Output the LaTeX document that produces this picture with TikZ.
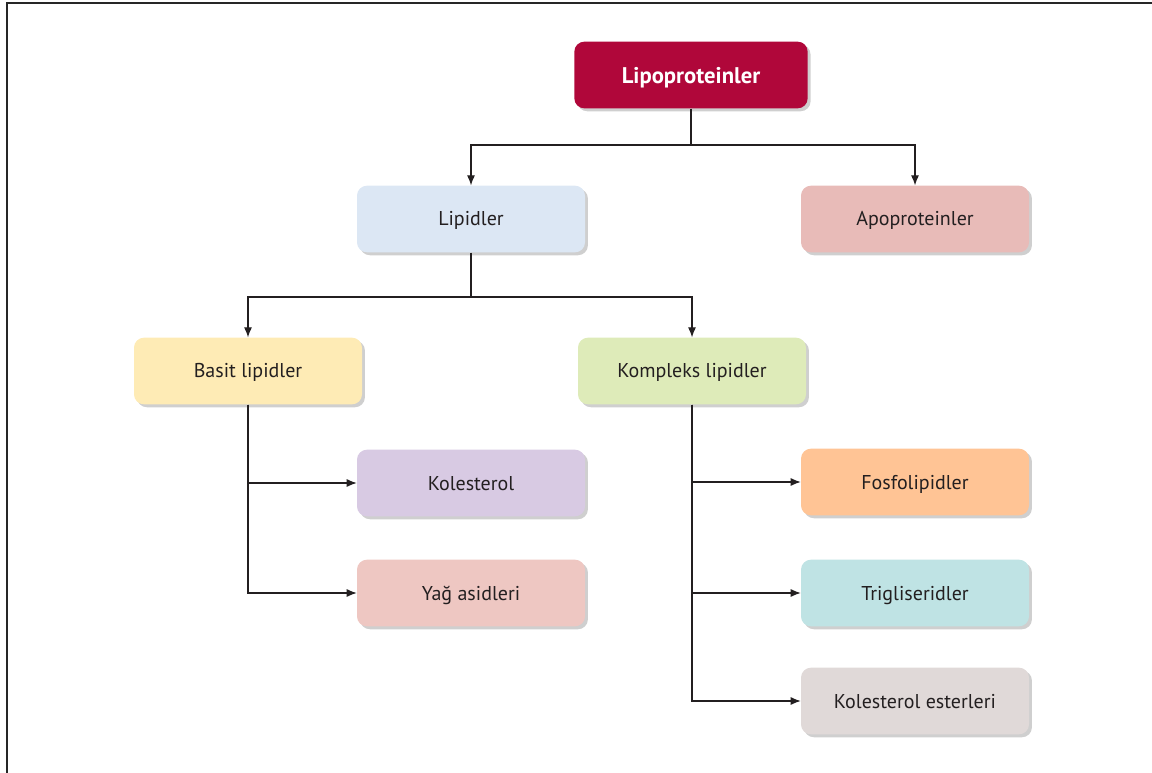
\documentclass[tikz,border=0pt]{standalone}
\usepackage{fontspec}
\setmainfont{PT Sans}
\usetikzlibrary{arrows.meta,shadows}
\definecolor{cLipo}{HTML}{B0073A}
\definecolor{cLipid}{HTML}{DCE7F4}
\definecolor{cApo}{HTML}{E8BBB8}
\definecolor{cBasit}{HTML}{FEEBB5}
\definecolor{cKomp}{HTML}{DEEBB9}
\definecolor{cKol}{HTML}{D8CAE3}
\definecolor{cYag}{HTML}{EEC7C2}
\definecolor{cFos}{HTML}{FFC495}
\definecolor{cTri}{HTML}{BFE3E4}
\definecolor{cKest}{HTML}{E0D9D8}
\definecolor{txt}{HTML}{231F20}
\definecolor{shd}{HTML}{CFCFCF}
\begin{document}
\begin{tikzpicture}[x=0.75pt,y=-0.75pt,
  box/.style={rounded corners=7.5pt, minimum width=171pt, minimum height=50pt,
    inner sep=0pt, text=txt, font=\fontsize{15}{18}\selectfont,
    text height=10.5pt, text depth=0pt,
    drop shadow={shadow xshift=2.2pt, shadow yshift=-2.2pt, fill=shd, opacity=1}},
  conn/.style={line width=0.9pt, draw=txt},
  arr/.style={conn, -{Latex[length=7.5pt,width=6pt]}}]
\useasboundingbox (0,0) rectangle (1152,773);
\draw[line width=1.4pt, draw=black!85] (7,773) -- (7,3) -- (1152,3);

\node[box, fill=cLipo, text=white, minimum width=175pt, text height=13pt, font=\fontsize{17}{20}\selectfont\bfseries] (lipo) at (691,75) {Lipoproteinler};
\node[box, fill=cLipid] (lipid) at (471,219) {Lipidler};
\node[box, fill=cApo] (apo) at (915,219) {Apoproteinler};
\node[box, fill=cBasit] (basit) at (248,371) {Basit lipidler};
\node[box, fill=cKomp] (komp) at (692,371) {Kompleks lipidler};
\node[box, fill=cKol] (kol) at (471,483) {Kolesterol};
\node[box, fill=cYag] (yag) at (471,593) {Yağ asidleri};
\node[box, fill=cFos] (fos) at (915,482) {Fosfolipidler};
\node[box, fill=cTri] (tri) at (915,593) {Trigliseridler};
\node[box, fill=cKest] (kest) at (915,701) {Kolesterol esterleri};

\coordinate (j1) at (691,145);
\coordinate (j2) at (471,297);
\draw[conn] (lipo.south) -- (j1);
\draw[arr] (j1) -| (lipid.north);
\draw[arr] (j1) -| (apo.north);
\draw[conn] (lipid.south) -- (j2);
\draw[arr] (j2) -| (basit.north);
\draw[arr] (j2) -| (komp.north);
\draw[arr] (basit.south) |- (kol.west);
\draw[arr] (basit.south) |- (yag.west);
\draw[arr] (komp.south) |- (fos.west);
\draw[arr] (komp.south) |- (tri.west);
\draw[arr] (komp.south) |- (kest.west);
\end{tikzpicture}
\end{document}
